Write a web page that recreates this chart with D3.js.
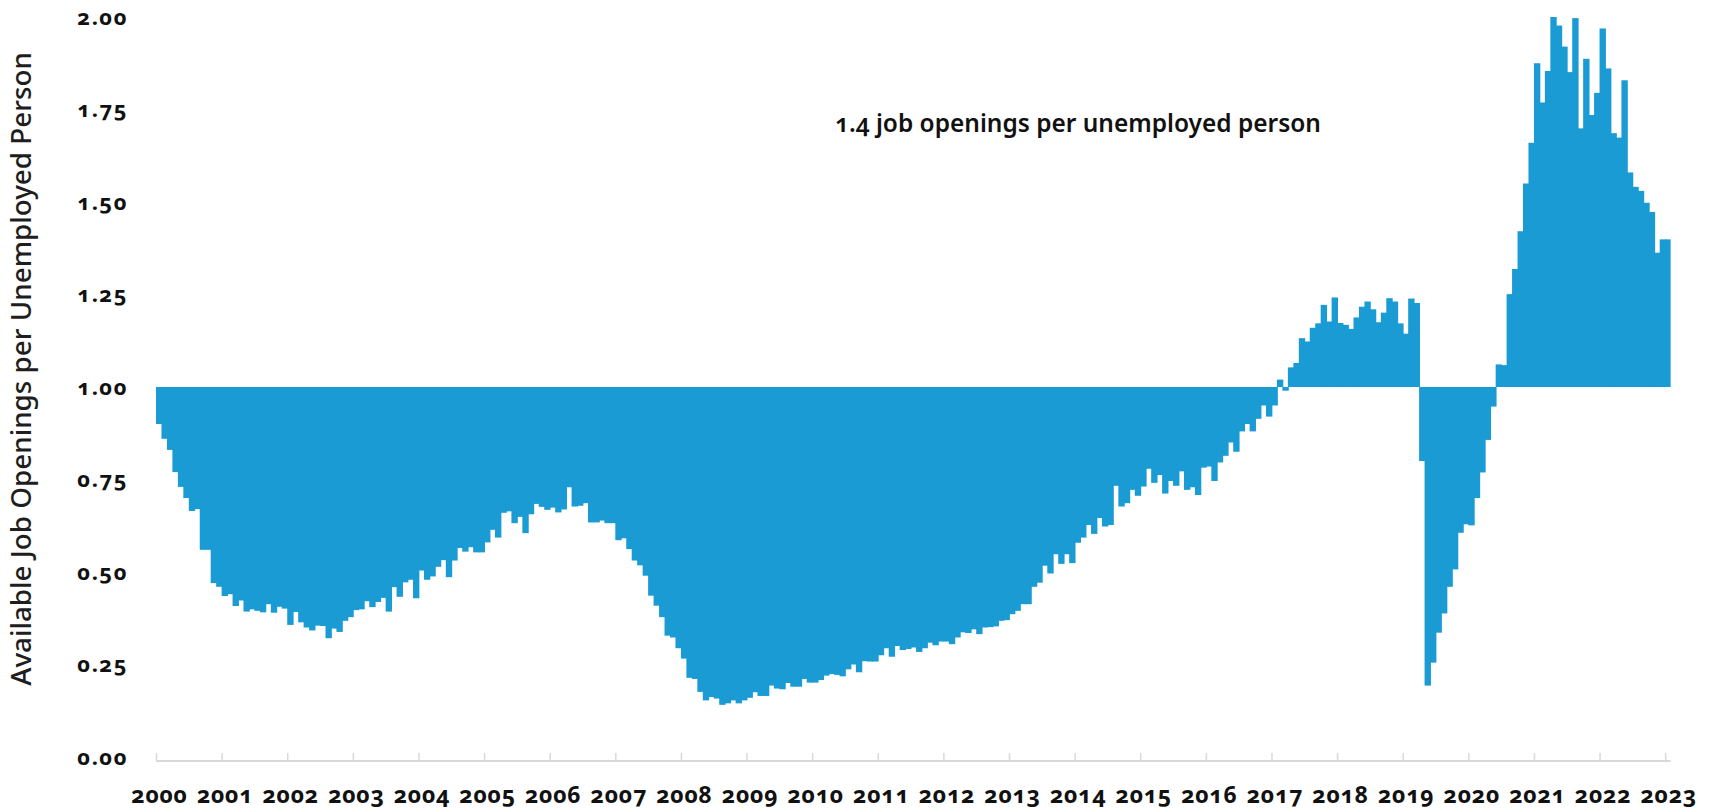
<!DOCTYPE html>
<html>
<head>
<meta charset="utf-8">
<title>Job openings per unemployed person</title>
<script src="https://cdn.jsdelivr.net/npm/d3@7"></script>
<style>
  html, body { margin:0; padding:0; background:#fff; }
  svg text { font-family:"Noto Sans", "Open Sans", Lato, sans-serif; font-variant-numeric: oldstyle-nums; }
</style>
</head>
<body>
<svg id="chart" width="1711" height="812"></svg>
<script>
// monthly ratio, one array per year
const y2000=[0.90,0.86,0.83,0.77,0.73,0.70,0.665,0.67,0.56,0.56,0.47,0.46]
const y2001=[0.435,0.44,0.408,0.423,0.393,0.399,0.395,0.391,0.413,0.39,0.406,0.401]
const y2002=[0.357,0.392,0.364,0.35,0.342,0.355,0.354,0.321,0.347,0.338,0.368,0.378]
const y2003=[0.397,0.399,0.421,0.405,0.419,0.43,0.393,0.459,0.433,0.472,0.479,0.429]
const y2004=[0.504,0.479,0.488,0.514,0.532,0.486,0.531,0.565,0.555,0.567,0.553,0.553]
const y2005=[0.58,0.614,0.593,0.66,0.664,0.632,0.649,0.605,0.656,0.684,0.676,0.668]
const y2006=[0.674,0.661,0.669,0.729,0.677,0.679,0.686,0.634,0.634,0.639,0.632,0.632]
const y2007=[0.586,0.591,0.562,0.531,0.518,0.49,0.436,0.409,0.378,0.328,0.323,0.294]
const y2008=[0.266,0.214,0.211,0.176,0.153,0.162,0.158,0.141,0.145,0.153,0.145,0.153]
const y2009=[0.16,0.175,0.165,0.165,0.193,0.185,0.183,0.2,0.19,0.19,0.211,0.201]
const y2010=[0.201,0.208,0.22,0.224,0.222,0.218,0.237,0.25,0.229,0.259,0.258,0.258]
const y2011=[0.275,0.294,0.271,0.3,0.289,0.292,0.296,0.284,0.294,0.309,0.302,0.312]
const y2012=[0.312,0.305,0.323,0.337,0.335,0.345,0.332,0.35,0.351,0.353,0.368,0.37]
const y2013=[0.386,0.395,0.413,0.413,0.46,0.471,0.517,0.496,0.548,0.522,0.548,0.524]
const y2014=[0.579,0.593,0.627,0.603,0.646,0.623,0.627,0.733,0.677,0.686,0.722,0.706]
const y2015=[0.731,0.779,0.741,0.762,0.712,0.746,0.733,0.772,0.722,0.729,0.708,0.782]
const y2016=[0.785,0.746,0.796,0.814,0.85,0.825,0.88,0.90,0.88,0.914,0.95,0.92]
const y2017=[0.95,1.02,0.99,1.053,1.065,1.132,1.123,1.16,1.172,1.222,1.177,1.242]
const y2018=[1.173,1.168,1.157,1.188,1.217,1.231,1.21,1.175,1.201,1.24,1.231,1.172]
const y2019=[1.144,1.239,1.227,0.80,0.193,0.255,0.336,0.388,0.46,0.507,0.606,0.629]
const y2020=[0.626,0.70,0.769,0.857,0.947,1.061,1.059,1.251,1.319,1.421,1.55,1.66]
const y2021=[1.875,1.769,1.854,2.0,1.977,1.92,1.851,1.997,1.699,1.887,1.735,1.795]
const y2022=[1.969,1.861,1.686,1.674,1.829,1.58,1.541,1.53,1.498,1.473,1.363,1.399]
const y2023=[1.399]

const years=["2000","2001","2002","2003","2004","2005","2006","2007","2008","2009","2010","2011",
  "2012","2013","2014","2015","2016","2017","2018","2019","2020","2021","2022","2023"]
const yTicks=[0,0.25,0.5,0.75,1,1.25,1.5,1.75,2]
const baseline=1.0
const note="1.4 job openings per unemployed person"
const yTitle="Available Job Openings per Unemployed Person"

const ratio=[].concat(y2000,y2001,y2002,y2003,y2004,y2005,y2006,y2007,y2008,y2009,y2010,y2011,
  y2012,y2013,y2014,y2015,y2016,y2017,y2018,y2019,y2020,y2021,y2022,y2023)

const svg=d3.select("#chart")
const blue="#1a9bd3"

// month index -> px ; 12 months per year tick
const x=d3.scaleLinear().domain([0,ratio.length]).range([156,156+5.468*ratio.length])
const y=d3.scaleLinear().domain([0,2]).range([757,17])

// bars hang from / stand on the 1.00 line (slight overlap so no seams)
svg.append("g").selectAll("rect").data(ratio).enter().append("rect")
  .attr("x",(d,i)=>x(i))
  .attr("width",(d,i)=>x(i+1)-x(i)+(i<ratio.length-1?0.9:0))
  .attr("y",d=>y(Math.max(d,baseline)))
  .attr("height",d=>Math.abs(y(d)-y(baseline)))
  .attr("fill",blue)

// x axis: light line, ticks pointing up
const xAxis=d3.axisBottom(x)
  .tickValues(years.map((yr,i)=>i*12))
  .tickFormat((d,i)=>years[i])
  .tickSize(-8).tickSizeOuter(0).tickPadding(26)
const gx=svg.append("g").attr("transform","translate(0,761)").call(xAxis)
gx.select(".domain").attr("stroke","#d9d9d9").attr("stroke-width",2)
  .attr("d","M"+x(0)+",0H"+x(ratio.length))
gx.selectAll(".tick line").attr("stroke","#d9d9d9").attr("stroke-width",1.5)
gx.selectAll(".tick text")
  .attr("fill","#111").attr("dx",3)
  .style("font-size","23px").style("font-weight","700").style("letter-spacing","0.7px")

// y axis: labels only
const yAxis=d3.axisLeft(y).tickValues(yTicks).tickFormat(d3.format(".2f")).tickSize(0).tickPadding(0)
const gy=svg.append("g").attr("transform","translate(128,0)").call(yAxis)
gy.select(".domain").remove()
gy.selectAll(".tick text")
  .attr("fill","#111")
  .style("font-size","22px").style("font-weight","700").style("letter-spacing","1.5px")

// fit a text node to a target width by scaling its font size
const fit=function(sel, w){
  const cur=sel.node().getComputedTextLength()
  const fs=parseFloat(sel.style("font-size"))
  sel.style("font-size",(fs*w/cur).toFixed(2)+"px")
}

const t1=svg.append("text").attr("x",835).attr("y",132)
  .attr("fill","#111").style("font-size","22px").style("font-weight","600")
  .text(note)
fit(t1,486)

const t2=svg.append("text").attr("transform","translate(31,369) rotate(-90)")
  .attr("text-anchor","middle").attr("fill","#1e1e1e")
  .style("font-size","26px").style("font-weight","500")
  .text(yTitle)
fit(t2,634)
</script>
</body>
</html>
